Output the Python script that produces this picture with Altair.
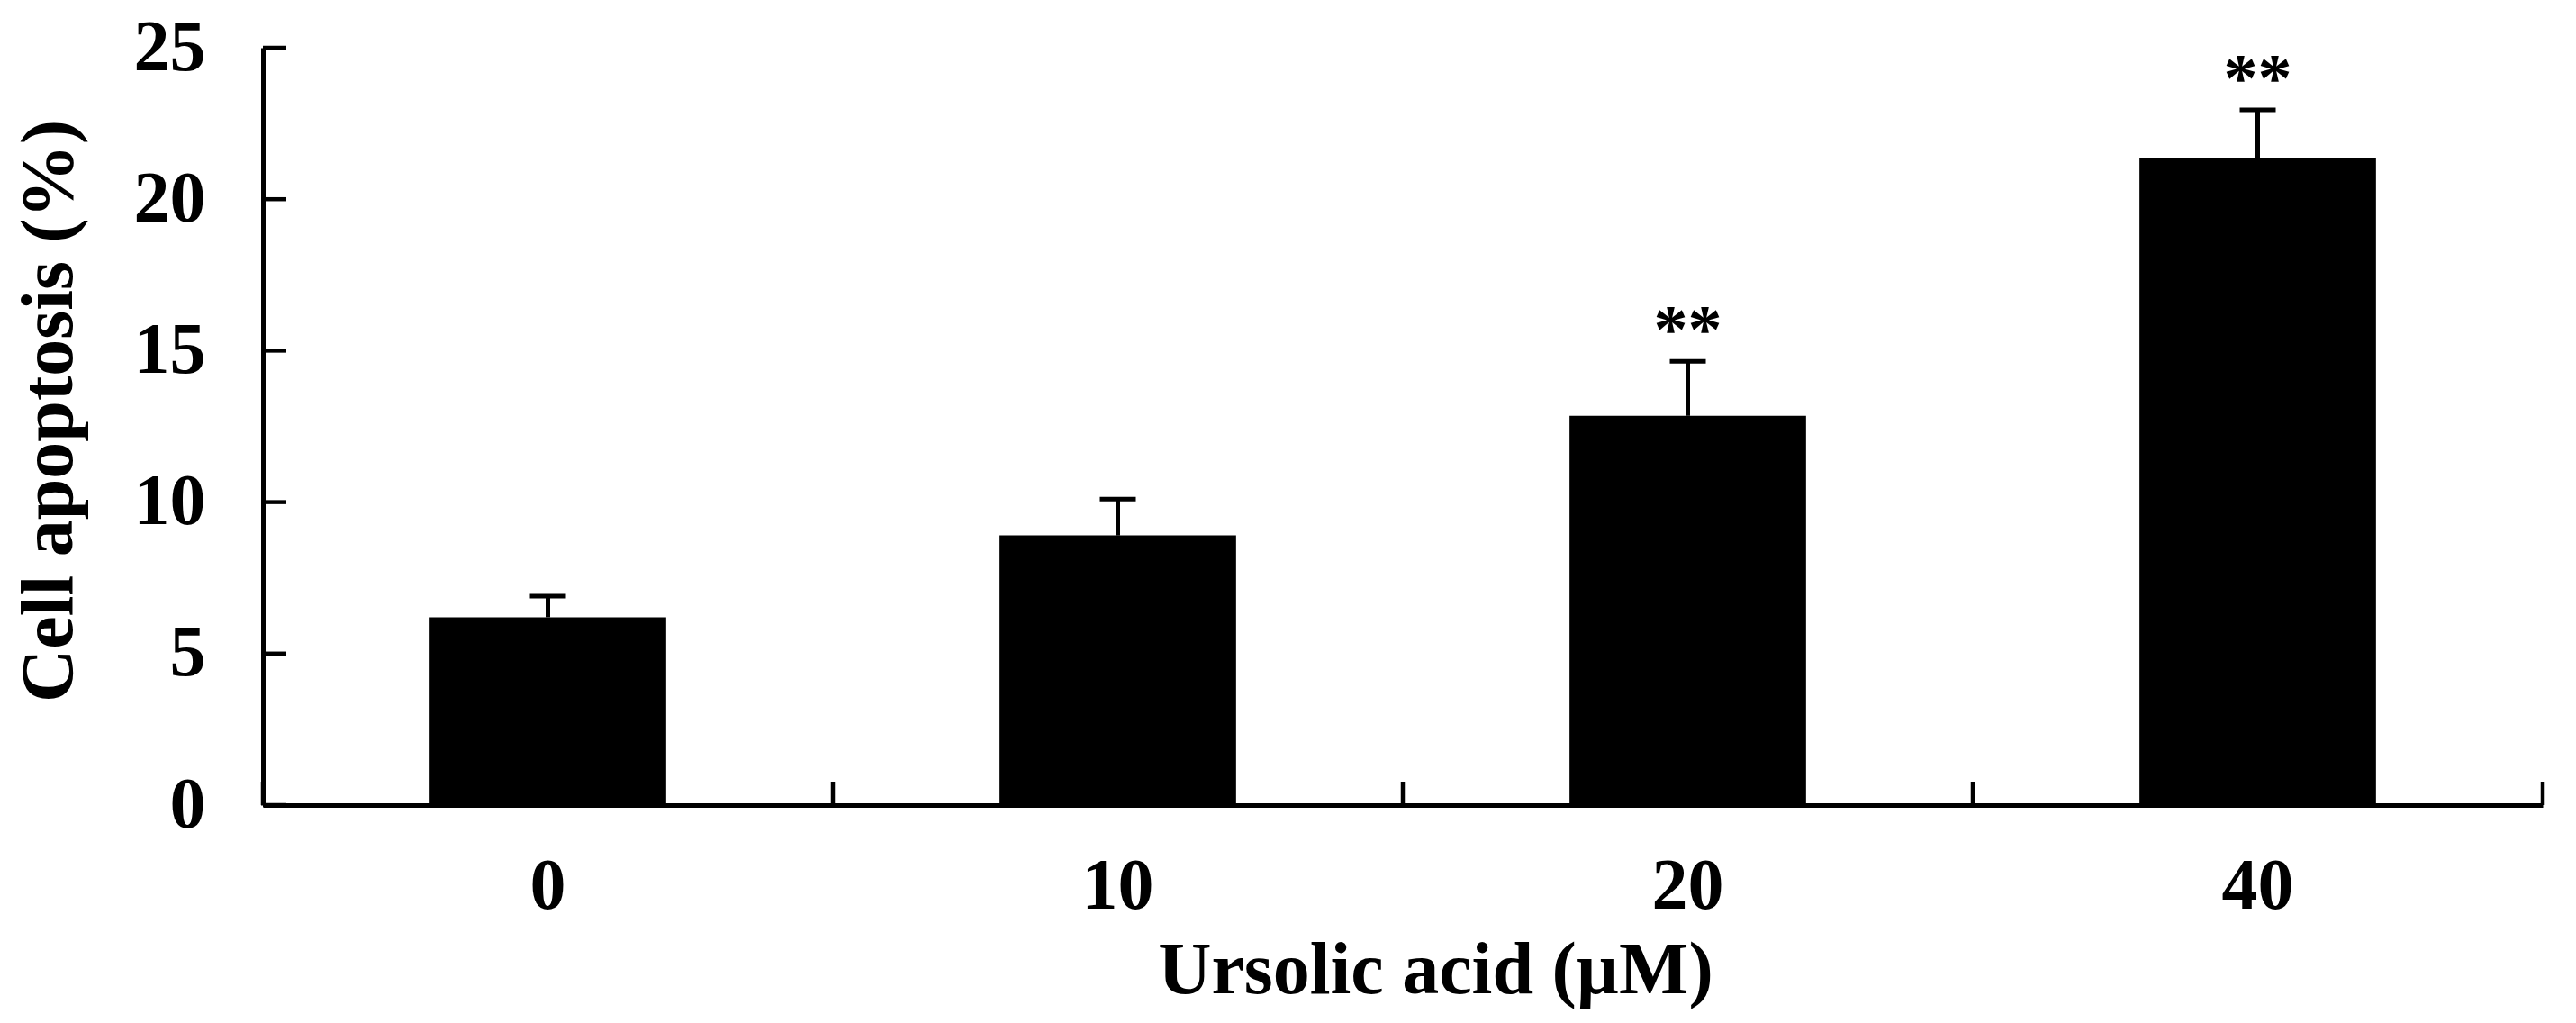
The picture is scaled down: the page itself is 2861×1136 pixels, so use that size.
import altair as alt
import pandas as pd

# ---- data ----
categories = ["0", "10", "20", "40"]
means = [6.2, 8.9, 12.85, 21.35]
errors = [0.7, 1.2, 1.8, 1.6]
stars = ["", "", "**", "**"]
y_tick_values = [0, 5, 10, 15, 20, 25]
x_tick_left = ["0", "10", "20", "40"]
x_tick_right = ["40"]

df = pd.DataFrame({"cat": categories, "mean": means, "err": errors, "star": stars})
df["upper"] = df["mean"] + df["err"]
yt = pd.DataFrame({"tick": y_tick_values})
xl = pd.DataFrame({"cat": x_tick_left})
xr = pd.DataFrame({"cat": x_tick_right})

FONT = "Liberation Serif"
W, H = 2532, 841
TICK = 26

xscale = alt.Scale(domain=categories, paddingInner=0, paddingOuter=0)
yscale = alt.Scale(domain=[0, 25], nice=False, zero=True)

x_axis = alt.Axis(
    title="Ursolic acid (µM)", labelAngle=0, ticks=False, tickSize=0,
    labelPadding=114, labelBaseline="alphabetic", labelFontSize=80,
    titleFontSize=82, titleX=1302, titleY=208, titleAlign="center",
    titleBaseline="alphabetic", domainWidth=5,
)
y_axis = alt.Axis(
    title="Cell apoptosis (%)", values=y_tick_values, grid=False, ticks=False,
    tickSize=0, labelPadding=64, labelFontSize=80, labelBaseline="middle",
    titleFontSize=82, titleX=-213, titleY=403, titleAlign="center",
    titleBaseline="alphabetic", domainWidth=5,
)


def X(field, **kw):
    return alt.X(field, scale=xscale, sort=categories, axis=x_axis, title="Ursolic acid (µM)", **kw)


def Y(field):
    return alt.Y(field, scale=yscale, axis=y_axis, title="Cell apoptosis (%)")


bars = alt.Chart(df).mark_bar(color="black", width=alt.RelativeBandSize(0.415)).encode(
    x=X("cat:N"), y=Y("mean:Q")
)

stem = alt.Chart(df).mark_rule(color="black", strokeWidth=5).encode(
    x=X("cat:N"), y=Y("mean:Q"), y2="upper:Q",
)

cap = alt.Chart(df).mark_tick(
    color="black", size=40, thickness=5, orient="horizontal", opacity=1
).encode(x=X("cat:N"), y=Y("upper:Q"))

star_text = alt.Chart(df).mark_text(
    font=FONT, fontSize=76, fontWeight="bold", baseline="alphabetic", dy=-10, color="black"
).encode(x=X("cat:N"), y=Y("upper:Q"), text="star:N")

ytick_rules = alt.Chart(yt).mark_rule(color="black", strokeWidth=4.5).encode(
    y=Y("tick:Q"), x=alt.value(0), x2=alt.value(TICK),
)

xtick_left = alt.Chart(xl).mark_rule(color="black", strokeWidth=4.5).encode(
    x=X("cat:N", bandPosition=0), y=alt.value(H), y2=alt.value(H - TICK),
)

xtick_right = alt.Chart(xr).mark_rule(color="black", strokeWidth=4.5).encode(
    x=X("cat:N", bandPosition=1), y=alt.value(H), y2=alt.value(H - TICK),
)

chart = (
    alt.layer(bars, stem, cap, star_text, ytick_rules, xtick_left, xtick_right)
    .properties(
        width=W, height=H,
        autosize=alt.AutoSizeParams(type="none"),
        padding={"left": 284, "top": 45, "right": 20, "bottom": 232},
        background="white",
    )
    .configure_view(stroke=None)
    .configure_axis(
        labelFont=FONT, titleFont=FONT, labelFontWeight="bold", titleFontWeight="bold",
        labelColor="black", titleColor="black", domainColor="black",
    )
)

chart.save("out.html", embed_options={"renderer": "svg", "actions": False})
